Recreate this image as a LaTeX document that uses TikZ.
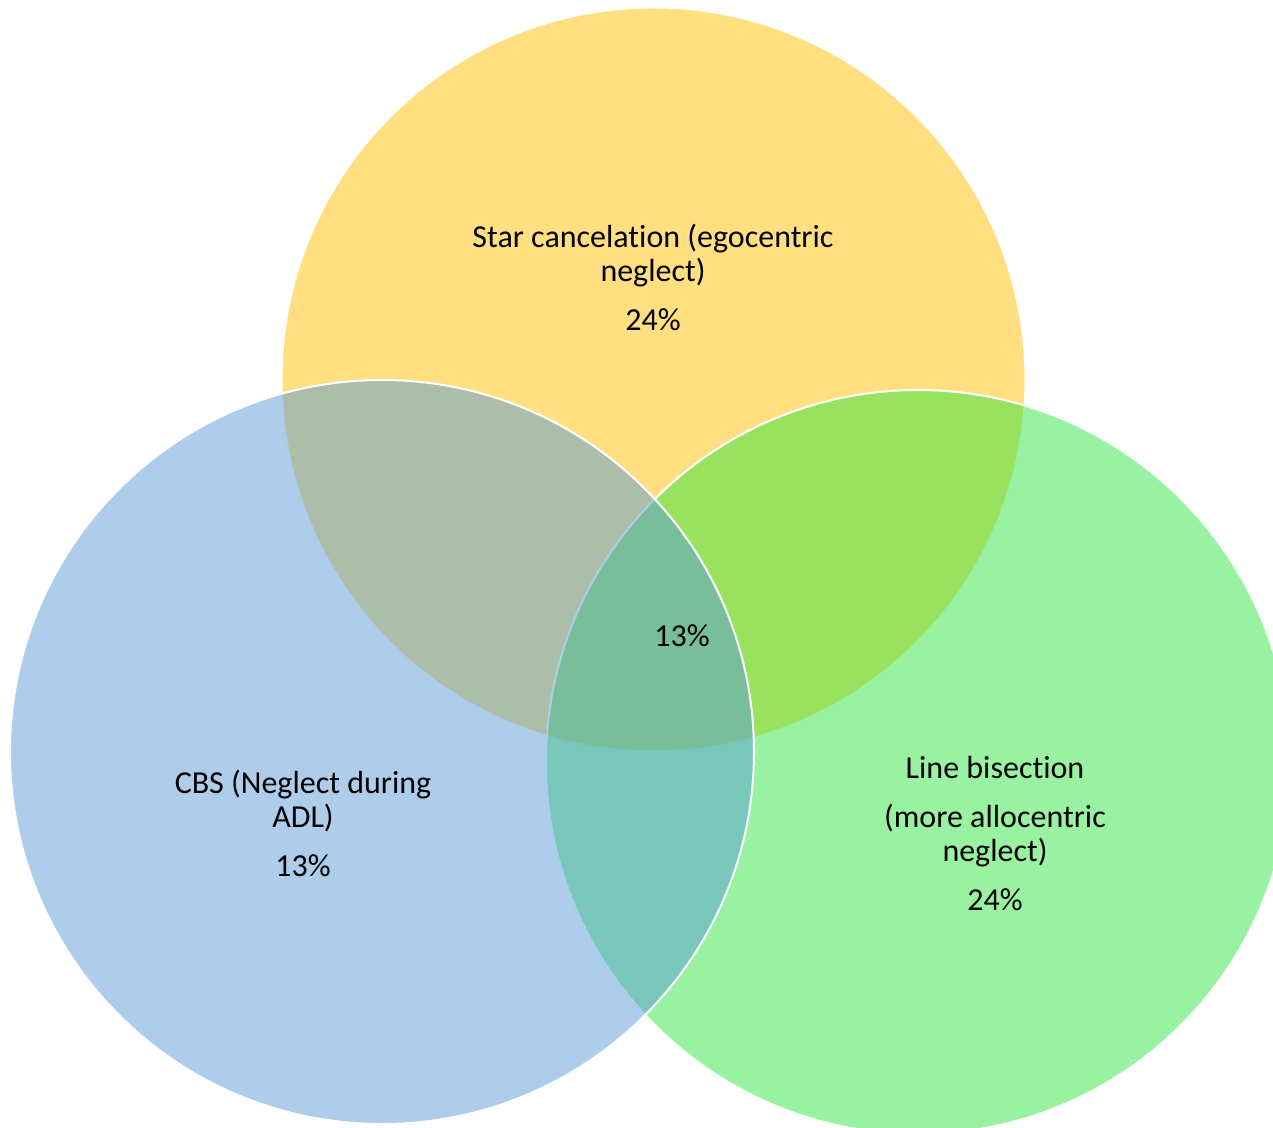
\documentclass[tikz,border=0pt]{standalone}
\usepackage{fontspec}
\setmainfont[Ligatures=NoCommon]{Carlito}
\usetikzlibrary{positioning}
\definecolor{cstar}{HTML}{FFC000}
\definecolor{cline}{HTML}{33E543}
\definecolor{ccbs}{HTML}{5B9BD5}
\tikzstyle{venn}=[draw=white,line width=1pt,fill opacity=0.5]
\tikzstyle{lbl}=[align=center,inner sep=0pt,font=\fontsize{16}{17}\selectfont,text=black]

\begin{document}
\begin{tikzpicture}[x=0.5pt,y=-0.5pt]
\useasboundingbox (0,0) rectangle (1273,1128);
\clip (0,0) rectangle (1273,1128);

% the three sets, drawn back to front
\draw[venn,fill=cstar] (653.5,379.5) circle (186pt);
\draw[venn,fill=cline] (918,762) circle (186pt);
\draw[venn,fill=ccbs] (382,752) circle (186pt);

% labels
\node[lbl] (star) at (653,277) {Star cancelation (egocentric\\neglect)\\[7.5pt]24\%};
\node[lbl] (cbs) at (303,823) {CBS (Neglect during\\ADL)\\[7.5pt]13\%};
\node[lbl] (line) at (995,834) {Line bisection\\[7.5pt](more allocentric\\neglect)\\[7.5pt]24\%};
\node[lbl] (all) at (682,636) {13\%};
\end{tikzpicture}
\end{document}
